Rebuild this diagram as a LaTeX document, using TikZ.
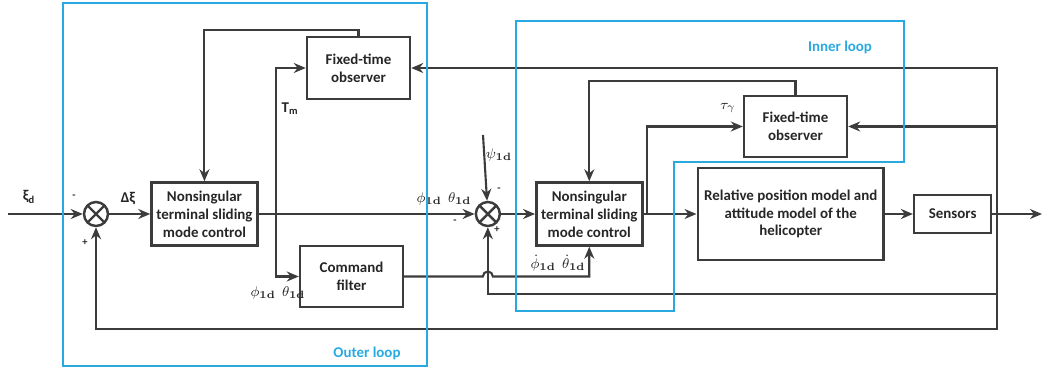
\documentclass[tikz,border=0pt]{standalone}
\usepackage{amsmath}
\usepackage[no-math]{fontspec}
\setmainfont{Carlito}
\usepackage{tikz}
\usetikzlibrary{
    arrows.meta,
    calc,
    positioning
}
\definecolor{heliline}{HTML}{3C3C3C}
\definecolor{loopblue}{HTML}{29A9E1}
\tikzstyle{arrow}=[line width=1.2pt,-{Stealth[length=2.4mm,width=2mm]},draw=heliline]
\tikzstyle{wire}=[line width=1.2pt,draw=heliline]

\begin{document}
\begin{tikzpicture}[
    x=0.02cm, y=-0.02cm,
    every node/.style={font=\fontsize{8.5}{10.2}\selectfont\bfseries, text=black!85},
    block/.style={
        rectangle,
        draw=heliline,
        line width=1.4pt,
        align=center,
        inner sep=1pt
    },
    summer/.style={
        circle,
        draw=heliline,
        line width=1.4pt,
        minimum size=0.48cm,
        inner sep=0pt,
        path picture={\draw[heliline,line width=1.4pt]
            (path picture bounding box.north west) -- (path picture bounding box.south east)
            (path picture bounding box.north east) -- (path picture bounding box.south west);}
    },
    sign/.style={font=\fontsize{6}{7}\selectfont\bfseries},
    mlabel/.style={font=\fontsize{8}{9}\selectfont, inner sep=1pt},
    loopbox/.style={draw=loopblue, line width=1.4pt},
    looplabel/.style={text=loopblue}
]
\useasboundingbox (0,0) rectangle (1043,374);

% main row
\node[summer] (sumA) at (96,214) {};
\node[block,minimum width=2.12cm,minimum height=1.26cm,right=0.82cm of sumA] (ntsA) {Nonsingular\\terminal sliding\\mode control};
\node[summer,right=4.32cm of ntsA] (sumB) {};
\node[block,minimum width=2.12cm,minimum height=1.26cm,right=0.68cm of sumB] (ntsB) {Nonsingular\\terminal sliding\\mode control};
\node[block,minimum width=3.72cm,minimum height=1.84cm,right=1.06cm of ntsB] (plant) {Relative position model and\\attitude model of the\\helicopter};
\node[block,minimum width=1.54cm,minimum height=0.76cm,right=0.56cm of plant] (sens) {Sensors};

% observers and filter
\node[block,minimum width=2.06cm,minimum height=1.24cm] (ftoA) at (358.5,68) {Fixed-time\\observer};
\node[block,minimum width=2.06cm,minimum height=1.22cm] (cmdA) at (351.5,276.5) {Command\\filter};
\node[block,minimum width=2.06cm,minimum height=1.22cm] (ftoB) at (795.5,126.5) {Fixed-time\\observer};

\coordinate (in) at (8,214);
\coordinate (out) at (1042,214);
\coordinate (jA) at (276,214);
\coordinate (jB) at (647,214);
\coordinate (jC) at (997,214);
\coordinate (fbA) at (997,329);
\coordinate (fbB) at (997,294);
\coordinate (psi) at (483,135);

\draw[arrow] (in) -- (sumA);
\draw[arrow] (sumA) -- (ntsA);
\draw[arrow] (ntsA) -- (sumB);
\draw[arrow] (jA) |- (ftoA);
\draw[arrow] (jA) |- (cmdA);
\draw[arrow] (ftoA.north) -- ++(0,-6) -| (ntsA.north);
\draw[arrow] (cmdA.east) -- ($(sumB|-cmdA.east)+(-5,0)$)
    arc[start angle=180,end angle=0,radius=0.1cm] -| (ntsB.south);
\draw[arrow] (psi) -- (sumB);
\draw[arrow] (sumB) -- (ntsB);
\draw[arrow] (ntsB) -- (plant);
\draw[arrow] (jB) |- (ftoB);
\draw[arrow] (ftoB.north) -- ++(0,-14) -| (ntsB.north);
\draw[arrow] (plant) -- (sens);
\draw[arrow] (sens) -- (out);
\draw[arrow] (jC) |- (ftoA);
\draw[arrow] (jC) |- (ftoB);
\draw[arrow] (fbB) -| (sumB.south);
\draw[arrow] (jC) -- (fbA) -| (sumA.south);

% labels
\node (xiLabel) at (29,197) {ξ\textsubscript{d}};
\node (dxiLabel) at (128,199) {Δξ};
\node[sign] (sgnA1) at (74,197) {-};
\node[sign] (sgnA2) at (85,243) {+};
\node (tmLabel) at (290,109) {T\textsubscript{m}};
\node[mlabel] (angA) at (278,293) {$\phi_{\mathbf{1d}}\ \ \theta_{\mathbf{1d}}$};
\node[mlabel] (angB) at (444,199) {$\phi_{\mathbf{1d}}\ \ \theta_{\mathbf{1d}}$};
\node[mlabel] (psiLabel) at (499,155) {$\psi_{\mathbf{1d}}$};
\node[sign] (sgnB1) at (499,190) {-};
\node[sign] (sgnB2) at (455,222) {-};
\node[sign] (sgnB3) at (497,230) {+};
\node[mlabel] (rateB) at (558,263) {$\dot\phi_{\mathbf{1d}}\ \ \dot\theta_{\mathbf{1d}}$};
\node[mlabel] (tauLabel) at (728,108) {$\tau_\gamma$};

% loops
\draw[loopbox] (63,3) rectangle (427,366);
\draw[loopbox] (516,21) -- (904,21) -- (904,162) -- (674,162) -- (674,311) -- (516,311) -- cycle;
\node[looplabel] (outerLabel) at (367,353) {Outer loop};
\node[looplabel] (innerLabel) at (840,47) {Inner loop};
\end{tikzpicture}
\end{document}
